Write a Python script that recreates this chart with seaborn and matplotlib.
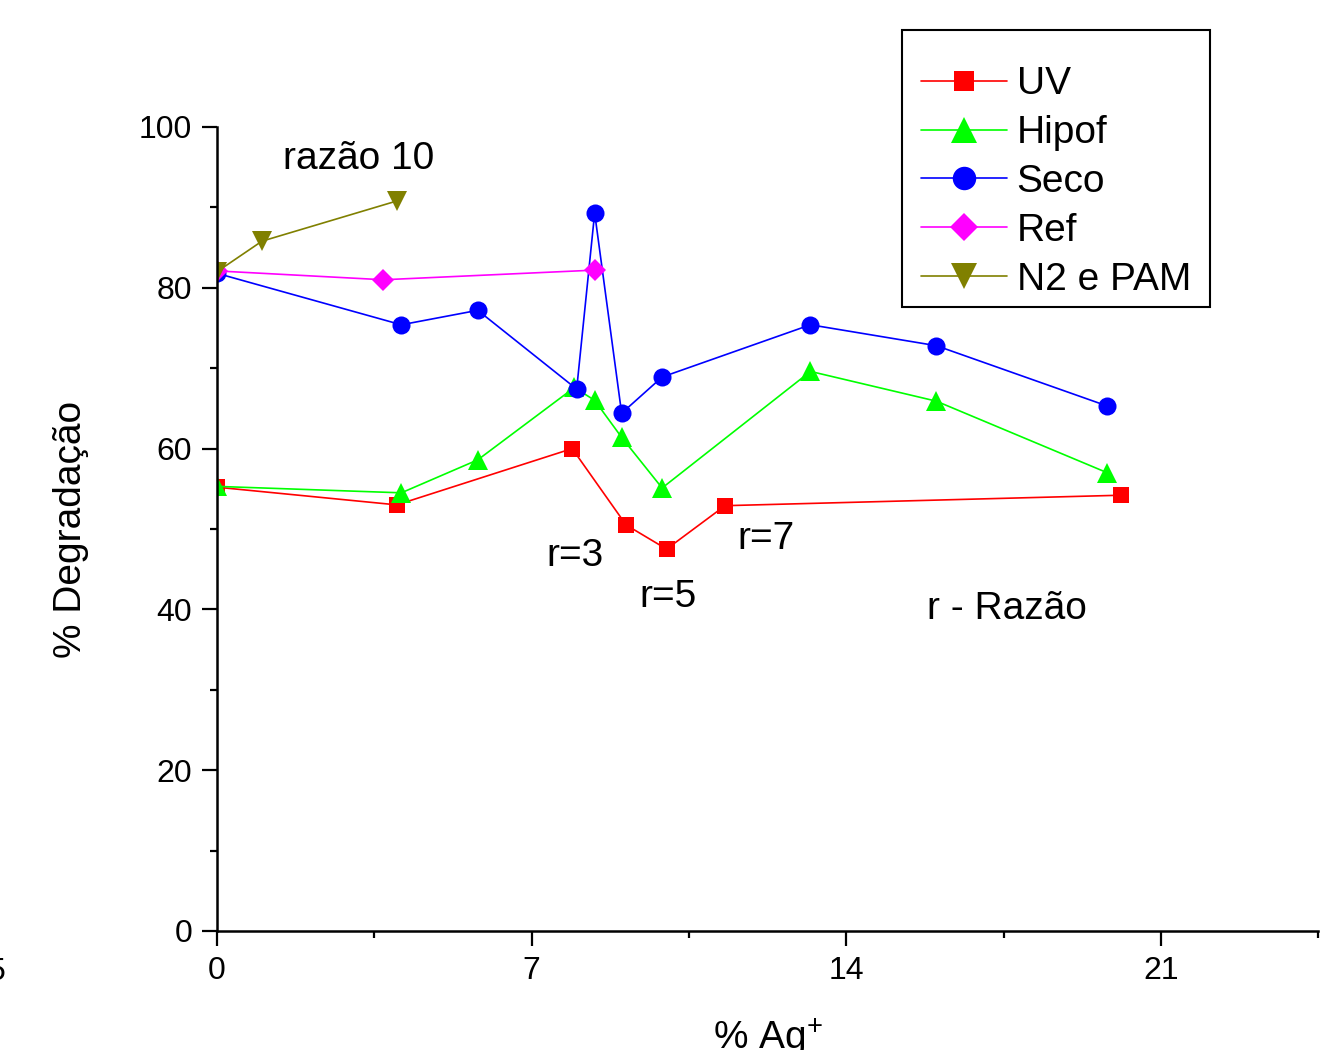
import matplotlib
matplotlib.use("Agg")
import matplotlib.pyplot as plt
import seaborn as sns
import pandas as pd
from matplotlib.patches import Rectangle
from matplotlib.ticker import MultipleLocator

# --- Daten ---
uv_x = [0.0, 4.0, 7.9, 9.1, 10.0, 11.3, 20.1]
uv_y = [55.2, 53.0, 60.0, 50.5, 47.5, 52.9, 54.2]

hipof_x = [0.0, 4.1, 5.8, 7.95, 8.4, 9.0, 9.9, 13.2, 16.0, 19.8]
hipof_y = [55.3, 54.5, 58.6, 67.6, 66.0, 61.4, 55.1, 69.6, 65.9, 57.0]

seco_x = [0.0, 4.1, 5.8, 8.0, 8.4, 9.0, 9.9, 13.2, 16.0, 19.8]
seco_y = [81.8, 75.4, 77.2, 67.4, 89.3, 64.4, 68.9, 75.4, 72.8, 65.3]

ref_x = [0.0, 3.7, 8.4]
ref_y = [82.1, 81.0, 82.2]

n2_x = [0.0, 1.0, 4.0]
n2_y = [82.0, 85.8, 90.8]

series = [
    ("UV", uv_x, uv_y, "#FF0000", "s", 11),
    ("Hipof", hipof_x, hipof_y, "#00FF00", "^", 14),
    ("Seco", seco_x, seco_y, "#0000FF", "o", 13),
    ("Ref", ref_x, ref_y, "#FF00FF", "D", 11),
    ("N2 e PAM", n2_x, n2_y, "#808000", "v", 14),
]

sns.set_theme(style="white")
plt.rcParams['font.family'] = ['Liberation Sans', 'DejaVu Sans']
plt.rcParams['text.color'] = 'black'
plt.rcParams['axes.labelcolor'] = 'black'
plt.rcParams['xtick.color'] = 'black'
plt.rcParams['ytick.color'] = 'black'
plt.rcParams['mathtext.fontset'] = 'custom'
plt.rcParams['mathtext.rm'] = 'Liberation Sans'
plt.rcParams['mathtext.it'] = 'Liberation Sans'

fig = plt.figure(figsize=(13.28, 10.5), dpi=100)
ax = fig.add_axes([217 / 1328, 1 - 931 / 1050, (1318.5 - 217) / 1328, (931 - 127) / 1050])

for name, xs, ys, col, mk, ms in series:
    df = pd.DataFrame({"x": xs, "y": ys})
    sns.lineplot(data=df, x="x", y="y", ax=ax, color=col, marker=mk,
                 markersize=ms, markeredgewidth=0, linewidth=1.2,
                 estimator=None, sort=False, label=name)

ax.set_xlim(0, 24.5)
ax.set_ylim(0, 100)
ax.xaxis.set_major_locator(MultipleLocator(7))
ax.xaxis.set_minor_locator(MultipleLocator(3.5))
ax.yaxis.set_major_locator(MultipleLocator(20))
ax.yaxis.set_minor_locator(MultipleLocator(10))

for s in ["top", "right"]:
    ax.spines[s].set_visible(False)
for s in ["left", "bottom"]:
    ax.spines[s].set_linewidth(1.8)
    ax.spines[s].set_color("black")

ax.tick_params(which="major", direction="out", length=11, width=1.6,
               labelsize=23, pad=7, colors="black", left=True, bottom=True)
ax.tick_params(which="minor", direction="out", length=5, width=1.6,
               left=True, bottom=True)

ax.set_xlabel("% Ag$^{+}$", fontsize=28, labelpad=22)
ax.set_ylabel("% Degradação", fontsize=28, labelpad=36)

# Beschriftungen im Diagramm
ax.text(1.47, 96.0, "razão 10", fontsize=28, va="center", ha="left")
ax.text(7.32, 46.6, "r=3", fontsize=28, va="center", ha="left")
ax.text(9.39, 41.6, "r=5", fontsize=28, va="center", ha="left")
ax.text(11.57, 48.8, "r=7", fontsize=28, va="center", ha="left")
ax.text(15.79, 40.1, "r - Razão", fontsize=28, va="center", ha="left")

# Reste vom abgeschnittenen Nachbarbild am linken Rand
fig.text(0.004, 1 - 972 / 1050, "5", fontsize=23, ha="right", va="center")
fig.text(0.005, 1 - 567 / 1050, "s", fontsize=28, rotation=90,
         ha="right", va="center")

# Legende ohne eigenen Rahmen, Rahmen separat gezeichnet
ax.get_legend().remove()
handles, labels = ax.get_legend_handles_labels()
leg = fig.legend(handles, labels, loc="upper left",
                 bbox_to_anchor=(902 / 1328, 1 - 47 / 1050),
                 fontsize=28, frameon=False, handlelength=2.2,
                 labelspacing=0.33, borderpad=0.5, handletextpad=0.25,
                 borderaxespad=0, markerscale=1.3)
fig.patches.append(Rectangle((902 / 1328, 1 - 307 / 1050), 308 / 1328, 277 / 1050,
                             transform=fig.transFigure, fill=False,
                             edgecolor="black", linewidth=1.5))

fig.savefig("out.png", dpi=100)
